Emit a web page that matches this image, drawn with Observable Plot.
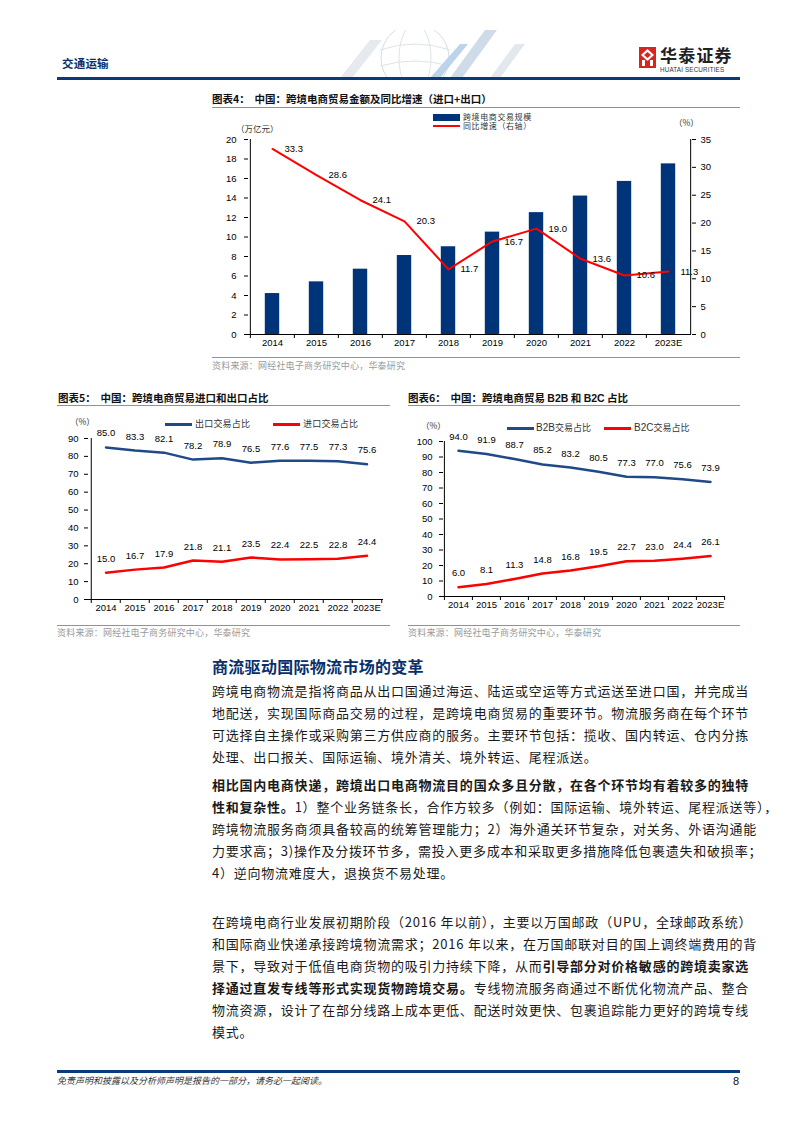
<!DOCTYPE html>
<html><head><meta charset="utf-8">
<script src="https://cdn.jsdelivr.net/npm/d3@7"></script>
<script src="https://cdn.jsdelivr.net/npm/@observablehq/plot@0.6"></script>
<style>
body{margin:0;background:#fff;}
#page{position:relative;width:794px;height:1123px;overflow:hidden;font-family:"Noto Sans CJK SC","Noto Sans",sans-serif;background:#fff;}
#page div{position:absolute;white-space:nowrap;}
.body{font-size:13px;line-height:22px;color:#1a1a1a;width:537px;letter-spacing:0.77px;}
.full{text-align:justify;text-align-last:justify;}
</style></head><body><div id="page"></div>
<script>
// ---------- data ----------
const years = ["2014","2015","2016","2017","2018","2019","2020","2021","2022","2023E"];
const tradeScale = [4.2, 5.4, 6.7, 8.1, 9.0, 10.5, 12.5, 14.2, 15.7, 17.5];
const yoyGrowth = [33.3, 28.6, 24.1, 20.3, 11.7, 16.7, 19.0, 13.6, 10.6, 11.3];
const scaleTicks = [0,2,4,6,8,10,12,14,16,18,20];
const growthTicks = [0,5,10,15,20,25,30,35];
const exportShare = [85.0, 83.3, 82.1, 78.2, 78.9, 76.5, 77.6, 77.5, 77.3, 75.6];
const importShare = [15.0, 16.7, 17.9, 21.8, 21.1, 23.5, 22.4, 22.5, 22.8, 24.4];
const shareTicks5 = [0,10,20,30,40,50,60,70,80,90];
const b2bShare = [94.0, 91.9, 88.7, 85.2, 83.2, 80.5, 77.3, 77.0, 75.6, 73.9];
const b2cShare = [6.0, 8.1, 11.3, 14.8, 16.8, 19.5, 22.7, 23.0, 24.4, 26.1];
const shareTicks6 = [0,10,20,30,40,50,60,70,80,90,100];

const NAVY = "#003478", BLUE = "#1f4a86", RED = "#ff0000";
const page = document.getElementById("page");
function div(css, html){ const e=document.createElement("div"); e.style.cssText=css; if(html!=null) e.innerHTML=html; page.appendChild(e); return e; }
function txt(x, cy, html, fs, css){ return div(`left:${x}px;top:${cy-fs*0.55}px;font-size:${fs}px;line-height:${fs*1.1}px;${css||""}`, html); }
function hline(x1, x2, y, t, c){ div(`left:${x1}px;top:${y}px;width:${x2-x1}px;height:${t}px;background:${c};`); }

// ---------- header ----------
div(`left:300px;top:30px;width:260px;height:48px;`, `<svg width="260" height="48" style="position:absolute;left:0;top:0">
<circle cx="115" cy="28" r="34" fill="none" stroke="#d5dde6" stroke-width="1"/>
<ellipse cx="115" cy="28" rx="16" ry="34" fill="none" stroke="#dde3ea" stroke-width="1"/>
<path d="M80 20 Q115 8 150 20 M80 36 Q115 26 150 36" fill="none" stroke="#dde3ea"/>
<polygon points="40,48 70,10 82,10 52,48" fill="#e6eaef"/>
<polygon points="150,48 185,0 197,0 162,48" fill="#cfdbe8"/>
<polygon points="130,48 160,14 168,14 140,48" fill="#bcd3ea"/>
<polygon points="190,48 215,14 225,14 200,48" fill="#e3e8ee"/>
</svg>`);
txt(62, 63, "交通运输", 11.5, "font-weight:700;color:#0a2f6b;letter-spacing:0.2px;");
div(`left:639px;top:47px;width:17px;height:21px;`, `<svg width="17" height="21"><rect width="17" height="21" fill="#d9261c"/><path d="M8.5 2 L15 8 L8.5 14 L2 8 Z" fill="#fff"/><rect x="3" y="13" width="3" height="6" fill="#fff"/><rect x="11" y="13" width="3" height="6" fill="#fff"/><path d="M8.5 5 L12 8 L8.5 11 L5 8 Z" fill="#d9261c"/></svg>`);
txt(660, 55, "华泰证券", 17, "font-weight:700;color:#222;letter-spacing:1.2px;");
txt(660, 70, "HUATAI SECURITIES", 6.3, "font-family:'Liberation Sans',Arial,sans-serif;color:#333;letter-spacing:0.15px;");
hline(57, 740, 77, 2.5, "#0a3a7a");

// ---------- common plot style ----------
const plotStyle = {fontFamily:"'Liberation Sans',Arial,sans-serif", fontSize:"9.5px", color:"#000", background:"none", overflow:"visible"};

// ---------- chart 4 ----------
txt(212, 99, "图表4：&nbsp;&nbsp;中国：跨境电商贸易金额及同比增速（进口+出口）", 10.5, "font-weight:700;color:#111;");
hline(212, 740, 107, 1, "#7f95b5");
div(`left:433px;top:113.5px;width:27px;height:7px;background:${NAVY};`);
div(`left:463px;top:112.6px;font-size:8px;line-height:8px;color:#333;letter-spacing:0.6px;`, "跨境电商交易规模");
div(`left:433px;top:125px;width:27px;height:2px;background:${RED};`);
div(`left:463px;top:122.2px;font-size:8px;line-height:8px;color:#333;letter-spacing:0.6px;`, "同比增速（右轴）");
txt(236, 129, "（万亿元）", 8.5, "color:#333;");
txt(674, 123, "（%）", 8.5, "color:#333;");

{
  const W=530, H=230, ml=48, mr=39, mt=9, mb=26;
  const bw=(W-ml-mr)/years.length;
  const k=20/35;
  const d4 = years.map((y,i)=>({year:y, v:tradeScale[i], g:yoyGrowth[i]}));
  const p = Plot.plot({
    width:W, height:H, marginLeft:ml, marginRight:mr, marginTop:mt, marginBottom:mb,
    style: plotStyle,
    x:{type:"band", domain:years, padding:0, label:null},
    y:{domain:[0,20], label:null},
    marks:[
      Plot.barY(d4, {x:"year", y:"v", fill:NAVY, insetLeft:14.8, insetRight:14.8}),
      Plot.ruleY([0], {stroke:"#000"}),
      Plot.ruleX([years[0]], {dx:-bw/2, stroke:"#000"}),
      Plot.ruleX([years[years.length-1]], {dx:bw/2, stroke:"#000"}),
      Plot.axisY(scaleTicks, {anchor:"left", tickSize:4, tickPadding:8, label:null, stroke:"#000", fill:"#000"}),
      Plot.axisY(growthTicks.map(v=>v*k), {anchor:"right", tickSize:4, tickPadding:5, label:null, tickFormat:d=>Math.round(d/k), stroke:"#000", fill:"#000"}),
      Plot.axisX(years, {tickSize:4, dx:-bw/2, fill:"none", label:null, stroke:"#000"}),
      Plot.axisX(years, {tickSize:0, tickPadding:5, label:null, fill:"#000"}),
      Plot.lineY(d4, {x:"year", y:d=>d.g*k, stroke:RED, strokeWidth:2}),
      Plot.text(d4, {x:"year", y:d=>d.g*k, text:d=>d.g.toFixed(1), dx:12, textAnchor:"start", fill:"#000"})
    ]
  });
  const w = div(`left:200px;top:130px;`); w.appendChild(p);
}
hline(212, 740, 357, 1, "#7f95b5");
txt(212, 366, "资料来源：网经社电子商务研究中心，华泰研究", 9, "color:#9a9a9a;letter-spacing:0.2px;");

// ---------- line charts ----------
function lineChart(o){
  const bw=(o.w-o.ml-o.mr)/years.length;
  const d = years.map((y,i)=>({year:y, a:o.s1[i], b:o.s2[i]}));
  return Plot.plot({
    width:o.w, height:o.h, marginLeft:o.ml, marginRight:o.mr, marginTop:o.mt, marginBottom:o.mb,
    style: plotStyle,
    x:{type:"band", domain:years, padding:0, label:null},
    y:{domain:[0,o.ymax], label:null},
    marks:[
      Plot.ruleY([0], {stroke:"#000"}),
      Plot.ruleX([years[0]], {dx:-bw/2, stroke:"#000"}),
      Plot.axisY(o.ticks, {anchor:"left", tickSize:4, tickPadding:o.tp, label:null, stroke:"#000", fill:"#000"}),
      Plot.axisX(years, {tickSize:4, dx:-bw/2, fill:"none", label:null, stroke:"#000"}),
      Plot.axisX([years[years.length-1]], {tickSize:4, dx:bw/2, fill:"none", label:null, stroke:"#000"}),
      Plot.axisX(years, {tickSize:0, tickPadding:5, label:null, fill:"#000"}),
      Plot.lineY(d, {x:"year", y:"a", stroke:BLUE, strokeWidth:2.5}),
      Plot.lineY(d, {x:"year", y:"b", stroke:RED, strokeWidth:2.5}),
      Plot.text(d, {x:"year", y:"a", text:d=>d.a.toFixed(1), dy:-14, fill:"#000"}),
      Plot.text(d, {x:"year", y:"b", text:d=>d.b.toFixed(1), dy:-14, fill:"#000"})
    ]
  });
}

// chart 5
txt(58, 398, "图表5：&nbsp;&nbsp;中国：跨境电商贸易进口和出口占比", 10.5, "font-weight:700;color:#111;");
hline(57, 390, 405, 1, "#7f95b5");
txt(70, 422, "（%）", 8.5, "color:#333;");
div(`left:165px;top:423px;width:27px;height:2.5px;background:${BLUE};`);
txt(195, 424, "出口交易占比", 9, "color:#333;letter-spacing:0.2px;");
div(`left:273px;top:423px;width:27px;height:2.5px;background:${RED};`);
txt(303, 424, "进口交易占比", 9, "color:#333;letter-spacing:0.2px;");
{
  const p = lineChart({w:345, h:195, ml:38, mr:12, mt:8, mb:26, ymax:90, ticks:shareTicks5, tp:6, s1:exportShare, s2:importShare});
  const w = div(`left:50px;top:430px;`); w.appendChild(p);
}
hline(57, 390, 625, 1, "#7f95b5");
txt(57, 633, "资料来源：网经社电子商务研究中心，华泰研究", 9, "color:#9a9a9a;letter-spacing:0.2px;");

// chart 6
txt(408, 398, "图表6：&nbsp;&nbsp;中国：跨境电商贸易 <span style=\"font-family:'Liberation Sans',Arial\">B2B</span> 和 <span style=\"font-family:'Liberation Sans',Arial\">B2C</span> 占比", 10.5, "font-weight:700;color:#111;");
hline(408, 740, 405, 1, "#7f95b5");
txt(421, 426, "（%）", 8.5, "color:#333;");
div(`left:507px;top:427px;width:27px;height:2.5px;background:${BLUE};`);
txt(536, 428, "<span style=\"font-family:'Liberation Sans',Arial;font-size:10px\">B2B</span>交易占比", 9, "color:#333;");
div(`left:604px;top:427px;width:27px;height:2.5px;background:${RED};`);
txt(634, 428, "<span style=\"font-family:'Liberation Sans',Arial;font-size:10px\">B2C</span>交易占比", 9, "color:#333;");
{
  const p = lineChart({w:345, h:195, ml:43, mr:20, mt:11, mb:29, ymax:100, ticks:shareTicks6, tp:7, s1:b2bShare, s2:b2cShare});
  const w = div(`left:400px;top:430px;`); w.appendChild(p);
}
hline(408, 740, 625, 1, "#7f95b5");
txt(408, 633, "资料来源：网经社电子商务研究中心，华泰研究", 9, "color:#9a9a9a;letter-spacing:0.2px;");

// ---------- text section ----------
txt(212, 667, "商流驱动国际物流市场的变革", 16, "font-weight:700;color:#0a2f6b;letter-spacing:0.3px;");
function para(top, lines){
  lines.forEach((l,i)=>{
    const last = i===lines.length-1;
    div(`left:212px;top:${top+i*22}px;`, l).className = "body" + (last ? "" : " full");
  });
}
para(680, [
  "跨境电商物流是指将商品从出口国通过海运、陆运或空运等方式运送至进口国，并完成当",
  "地配送，实现国际商品交易的过程，是跨境电商贸易的重要环节。物流服务商在每个环节",
  "可选择自主操作或采购第三方供应商的服务。主要环节包括：揽收、国内转运、仓内分拣",
  "处理、出口报关、国际运输、境外清关、境外转运、尾程派送。"
]);
para(774, [
  "<b>相比国内电商快递，跨境出口电商物流目的国众多且分散，在各个环节均有着较多的独特</b>",
  "<b>性和复杂性。</b>1）整个业务链条长，合作方较多（例如：国际运输、境外转运、尾程派送等），",
  "跨境物流服务商须具备较高的统筹管理能力；2）海外通关环节复杂，对关务、外语沟通能",
  "力要求高；3)操作及分拨环节多，需投入更多成本和采取更多措施降低包裹遗失和破损率；",
  "4）逆向物流难度大，退换货不易处理。"
]);
para(911, [
  "在跨境电商行业发展初期阶段（2016 年以前），主要以万国邮政（UPU，全球邮政系统）",
  "和国际商业快递承接跨境物流需求；2016 年以来，在万国邮联对目的国上调终端费用的背",
  "景下，导致对于低值电商货物的吸引力持续下降，从而<b>引导部分对价格敏感的跨境卖家选</b>",
  "<b>择通过直发专线等形式实现货物跨境交易。</b>专线物流服务商通过不断优化物流产品、整合",
  "物流资源，设计了在部分线路上成本更低、配送时效更快、包裹追踪能力更好的跨境专线",
  "模式。"
]);

// ---------- footer ----------
hline(57, 740, 1070, 2.5, "#0a3a7a");
txt(57, 1081, "免责声明和披露以及分析师声明是报告的一部分，请务必一起阅读。", 9, "font-style:italic;color:#333;");
txt(733, 1081, "8", 11, "font-family:'Liberation Sans',Arial,sans-serif;color:#111;");
</script></body></html>
